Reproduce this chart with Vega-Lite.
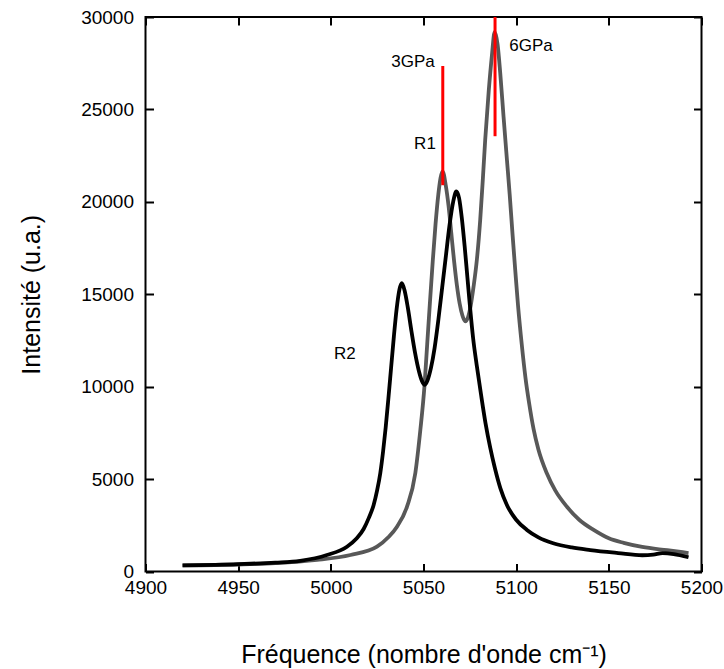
{
  "$schema": "https://vega.github.io/schema/vega-lite/v6.json",
  "width": 556,
  "height": 554.5,
  "autosize": {"type": "none"},
  "padding": {"left": 145.5, "top": 17, "right": 22.5, "bottom": 97.5},
  "background": "white",
  "config": {
    "view": {"stroke": "black", "strokeWidth": 2},
    "axis": {
      "domain": false,
      "grid": false,
      "labelFlush": false,
      "labelColor": "black",
      "labelFont": "Liberation Sans",
      "labelFontSize": 19,
      "format": "d",
      "titleFont": "Liberation Sans",
      "titleFontSize": 25,
      "titleFontWeight": "normal",
      "titleColor": "black"
    }
  },
  "datasets": {
    "gray": [
      {"x": 4920, "y": 330},
      {"x": 4950, "y": 380},
      {"x": 4970, "y": 450},
      {"x": 4992.5, "y": 623},
      {"x": 5010.6, "y": 893},
      {"x": 5024.9, "y": 1343},
      {"x": 5031, "y": 1850},
      {"x": 5035.7, "y": 2426},
      {"x": 5041.1, "y": 3510},
      {"x": 5045.6, "y": 5334},
      {"x": 5048.3, "y": 7663},
      {"x": 5050.5, "y": 10000},
      {"x": 5052, "y": 12300},
      {"x": 5053.5, "y": 14600},
      {"x": 5055, "y": 16800},
      {"x": 5056.5, "y": 18800},
      {"x": 5058, "y": 20400},
      {"x": 5059.2, "y": 21300},
      {"x": 5060.3, "y": 21650},
      {"x": 5062, "y": 20900},
      {"x": 5063.5, "y": 19800},
      {"x": 5065, "y": 18300},
      {"x": 5066.5, "y": 16800},
      {"x": 5068, "y": 15500},
      {"x": 5069.5, "y": 14500},
      {"x": 5071, "y": 13850},
      {"x": 5072.5, "y": 13530},
      {"x": 5074, "y": 13750},
      {"x": 5075.5, "y": 14400},
      {"x": 5077, "y": 15400},
      {"x": 5078.8, "y": 16870},
      {"x": 5080.6, "y": 19030},
      {"x": 5082, "y": 21200},
      {"x": 5083.3, "y": 23360},
      {"x": 5085.2, "y": 26000},
      {"x": 5086.9, "y": 27900},
      {"x": 5088.4, "y": 29200},
      {"x": 5090, "y": 28500},
      {"x": 5091.4, "y": 26970},
      {"x": 5093.2, "y": 24600},
      {"x": 5095, "y": 22300},
      {"x": 5096.5, "y": 20400},
      {"x": 5098, "y": 18300},
      {"x": 5099.5, "y": 16300},
      {"x": 5101, "y": 14400},
      {"x": 5103, "y": 12300},
      {"x": 5105, "y": 10500},
      {"x": 5107, "y": 9100},
      {"x": 5109.4, "y": 7700},
      {"x": 5112, "y": 6600},
      {"x": 5116.6, "y": 5300},
      {"x": 5121, "y": 4400},
      {"x": 5127.4, "y": 3500},
      {"x": 5134, "y": 2800},
      {"x": 5141.8, "y": 2250},
      {"x": 5150, "y": 1800},
      {"x": 5158, "y": 1550},
      {"x": 5168, "y": 1330},
      {"x": 5181.5, "y": 1150},
      {"x": 5193, "y": 1000}
    ],
    "black": [
      {"x": 4920, "y": 330},
      {"x": 4950, "y": 400},
      {"x": 4970, "y": 480},
      {"x": 4983.5, "y": 580},
      {"x": 4997.9, "y": 893},
      {"x": 5008.7, "y": 1343},
      {"x": 5014, "y": 1800},
      {"x": 5017.7, "y": 2300},
      {"x": 5020.5, "y": 2900},
      {"x": 5023.1, "y": 3600},
      {"x": 5025, "y": 4400},
      {"x": 5026.7, "y": 5334},
      {"x": 5028.2, "y": 6500},
      {"x": 5029.6, "y": 7800},
      {"x": 5031, "y": 9300},
      {"x": 5032.5, "y": 11000},
      {"x": 5034, "y": 12700},
      {"x": 5035.5, "y": 14200},
      {"x": 5037, "y": 15250},
      {"x": 5038.3, "y": 15600},
      {"x": 5039.8, "y": 15200},
      {"x": 5041.5, "y": 14300},
      {"x": 5043.5, "y": 13000},
      {"x": 5045.5, "y": 11800},
      {"x": 5047.5, "y": 10850},
      {"x": 5049.2, "y": 10300},
      {"x": 5050.6, "y": 10100},
      {"x": 5052.2, "y": 10350},
      {"x": 5054, "y": 11000},
      {"x": 5056, "y": 12100},
      {"x": 5058, "y": 13600},
      {"x": 5060, "y": 15300},
      {"x": 5062, "y": 17000},
      {"x": 5064, "y": 18700},
      {"x": 5066, "y": 20000},
      {"x": 5067.7, "y": 20560},
      {"x": 5069.2, "y": 20200},
      {"x": 5070.7, "y": 19100},
      {"x": 5072.2, "y": 17600},
      {"x": 5073.7, "y": 15900},
      {"x": 5075.2, "y": 14200},
      {"x": 5076.8, "y": 12600},
      {"x": 5078.8, "y": 11100},
      {"x": 5081, "y": 9600},
      {"x": 5083.5, "y": 8000},
      {"x": 5086, "y": 6700},
      {"x": 5088.5, "y": 5600},
      {"x": 5091.5, "y": 4500},
      {"x": 5095, "y": 3600},
      {"x": 5100, "y": 2800},
      {"x": 5105.8, "y": 2250},
      {"x": 5112, "y": 1850},
      {"x": 5120, "y": 1530},
      {"x": 5130, "y": 1300},
      {"x": 5140, "y": 1160},
      {"x": 5155, "y": 1000},
      {"x": 5168, "y": 880},
      {"x": 5174, "y": 910},
      {"x": 5179, "y": 990},
      {"x": 5185, "y": 940},
      {"x": 5193, "y": 770}
    ],
    "markers": [
      {"x": 5060.4, "y": 20900, "y2": 27350},
      {"x": 5088.6, "y": 23550, "y2": 30000}
    ],
    "labels": [
      {"x": 5044.3, "y": 27565, "text": "3GPa"},
      {"x": 5108, "y": 28431, "text": "6GPa"},
      {"x": 5050.8, "y": 23129, "text": "R1"},
      {"x": 5007.6, "y": 11767, "text": "R2"}
    ]
  },
  "resolve": {"axis": {"x": "independent", "y": "independent"}},
  "layer": [
    {
      "data": {"name": "gray"},
      "mark": {"type": "line", "color": "#585858", "strokeWidth": 3.8, "interpolate": "monotone"},
      "encoding": {
        "x": {"field": "x", "type": "quantitative", "scale": {"domain": [4900, 5200], "nice": false, "zero": false},
          "axis": {"orient": "bottom", "values": [4900, 4950, 5000, 5050, 5100, 5150, 5200], "tickColor": "black", "tickWidth": 2, "tickSize": -8, "labelPadding": 15, "title": "Fréquence (nombre d'onde cm⁻¹)", "titlePadding": 45}},
        "y": {"field": "y", "type": "quantitative", "scale": {"domain": [0, 30000], "nice": false},
          "axis": {"orient": "left", "values": [0, 5000, 10000, 15000, 20000, 25000, 30000], "tickColor": "black", "tickWidth": 2, "tickSize": -8, "labelPadding": 20, "title": "Intensité (u.a.)", "titlePadding": 36}}
      }
    },
    {
      "data": {"name": "black"},
      "mark": {"type": "line", "color": "#000000", "strokeWidth": 3.8, "interpolate": "monotone"},
      "encoding": {
        "x": {"field": "x", "type": "quantitative",
          "axis": {"orient": "top", "values": [4900, 4950, 5000, 5050, 5100, 5150, 5200], "offset": -8, "tickColor": "black", "tickWidth": 2, "tickSize": 8, "labels": false, "title": null}},
        "y": {"field": "y", "type": "quantitative",
          "axis": {"orient": "right", "values": [0, 5000, 10000, 15000, 20000, 25000, 30000], "offset": -8, "tickColor": "black", "tickWidth": 2, "tickSize": 8, "labels": false, "title": null}}
      }
    },
    {
      "data": {"name": "markers"},
      "mark": {"type": "rule", "color": "#ff0000", "strokeWidth": 3},
      "encoding": {
        "x": {"field": "x", "type": "quantitative", "axis": null},
        "y": {"field": "y", "type": "quantitative", "axis": null},
        "y2": {"field": "y2"}
      }
    },
    {
      "data": {"name": "labels"},
      "mark": {"type": "text", "font": "Liberation Sans", "fontSize": 17, "color": "black", "align": "center", "baseline": "middle"},
      "encoding": {
        "x": {"field": "x", "type": "quantitative", "axis": null},
        "y": {"field": "y", "type": "quantitative", "axis": null},
        "text": {"field": "text"}
      }
    }
  ]
}
